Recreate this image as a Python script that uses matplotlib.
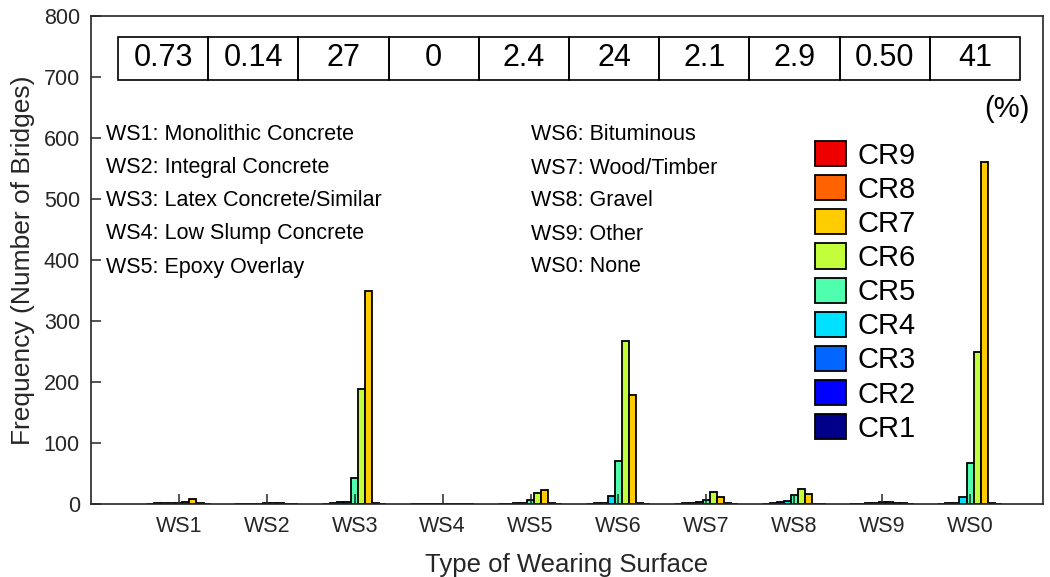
import numpy as np
import matplotlib.pyplot as plt
from matplotlib.patches import Rectangle

plt.rcParams['font.family'] = ['Liberation Sans', 'DejaVu Sans']

### Data (number of bridges per condition rating, for each wearing surface)
surfaces = ['WS1', 'WS2', 'WS3', 'WS4', 'WS5', 'WS6', 'WS7', 'WS8', 'WS9', 'WS0']
ratings = ['CR1', 'CR2', 'CR3', 'CR4', 'CR5', 'CR6', 'CR7', 'CR8', 'CR9']
counts = np.array([
    [0, 1, 1, 1, 1, 3, 8, 1, 0],          # WS1
    [0, 0, 0, 0, 1, 1, 1, 0, 0],          # WS2
    [0, 1, 3, 4, 42, 188, 350, 1, 0],     # WS3
    [0, 0, 0, 0, 0, 0, 0, 0, 0],          # WS4
    [0, 0, 1, 2, 7, 18, 23, 1, 0],        # WS5
    [0, 1, 2, 13, 70, 267, 178, 1, 0],    # WS6
    [0, 1, 2, 3, 7, 19, 11, 1, 0],        # WS7
    [0, 1, 3, 5, 14, 24, 16, 0, 0],       # WS8
    [0, 0, 1, 2, 3, 3, 1, 1, 0],          # WS9
    [0, 1, 2, 12, 68, 249, 560, 1, 0],    # WS0
])
percent_labels = ['0.73', '0.14', '27', '0', '2.4', '24', '2.1', '2.9', '0.50', '41']
left_notes = ['WS1: Monolithic Concrete', 'WS2: Integral Concrete', 'WS3: Latex Concrete/Similar',
              'WS4: Low Slump Concrete', 'WS5: Epoxy Overlay']
right_notes = ['WS6: Bituminous', 'WS7: Wood/Timber', 'WS8: Gravel', 'WS9: Other', 'WS0: None']
colors = ['#000088', '#0000ff', '#0066ff', '#00e0ff', '#50ffae',
          '#c2ff3a', '#ffcc00', '#ff6200', '#ee0000']

ink = '#262626'
fig = plt.figure(figsize=(10.5, 5.77), dpi=100)
W, H = 1050, 577
ax_l, ax_r, ax_t, ax_b = 91, 1043, 16, 504
ax = fig.add_axes([ax_l / W, 1 - ax_b / H, (ax_r - ax_l) / W, (ax_b - ax_t) / H])

x = np.arange(1, len(surfaces) + 1)
bw = 0.08
for j, cr in enumerate(ratings):
    ax.bar(x + (j - 4) * bw, counts[:, j], width=bw, color=colors[j],
           edgecolor='black', linewidth=1.3, label=cr)

ax.set_xlim(0, 10.83)
ax.set_ylim(0, 800)
ax.set_xticks(x)
ax.set_xticklabels(surfaces)
ax.set_yticks(np.arange(0, 801, 100))
ax.tick_params(direction='in', length=7, width=1.1, colors=ink, labelsize=15.5)
ax.tick_params(axis='x', pad=9)
ax.tick_params(axis='y', pad=8)
for s in ax.spines.values():
    s.set_linewidth(1.2)
    s.set_color(ink)
ax.set_xlabel('Type of Wearing Surface', fontsize=18.5, color=ink, labelpad=11)
ax.set_ylabel('Frequency (Number of Bridges)', fontsize=19, color=ink, labelpad=6)

# percentage table
aw, ah = ax_r - ax_l, ax_b - ax_t
tl, tr = (118 - ax_l) / aw, (1020 - ax_l) / aw
tt, tb = (ax_b - 37) / ah, (ax_b - 80) / ah
cw = (tr - tl) / len(percent_labels)
for i, p in enumerate(percent_labels):
    ax.add_patch(Rectangle((tl + i * cw, tb), cw, tt - tb, transform=ax.transAxes,
                           fill=False, edgecolor='black', linewidth=1.2))
    ax.text(tl + (i + 0.5) * cw, (tt + tb) / 2, p, transform=ax.transAxes,
            ha='center', va='center', fontsize=22, color='black')
ax.text((1007 - ax_l) / aw, (ax_b - 109) / ah, '(%)', transform=ax.transAxes,
        ha='center', va='center', fontsize=21, color='black')

# surface type descriptions
for k, (a, b) in enumerate(zip(left_notes, right_notes)):
    yy = (ax_b - (135 + 33 * k)) / ah
    ax.text((106 - ax_l) / aw, yy, a, transform=ax.transAxes, va='center', fontsize=15.5, color='black')
    ax.text((531 - ax_l) / aw, yy, b, transform=ax.transAxes, va='center', fontsize=15.5, color='black')

handles, labels = ax.get_legend_handles_labels()
ax.legend(handles[::-1], labels[::-1], loc='upper left',
          bbox_to_anchor=((815 - ax_l) / aw, (ax_b - 141) / ah),
          frameon=False, fontsize=21, borderpad=0, borderaxespad=0,
          handlelength=1.05, handleheight=0.95, handletextpad=0.4, labelspacing=0.19)

plt.savefig('out.png', dpi=100)
